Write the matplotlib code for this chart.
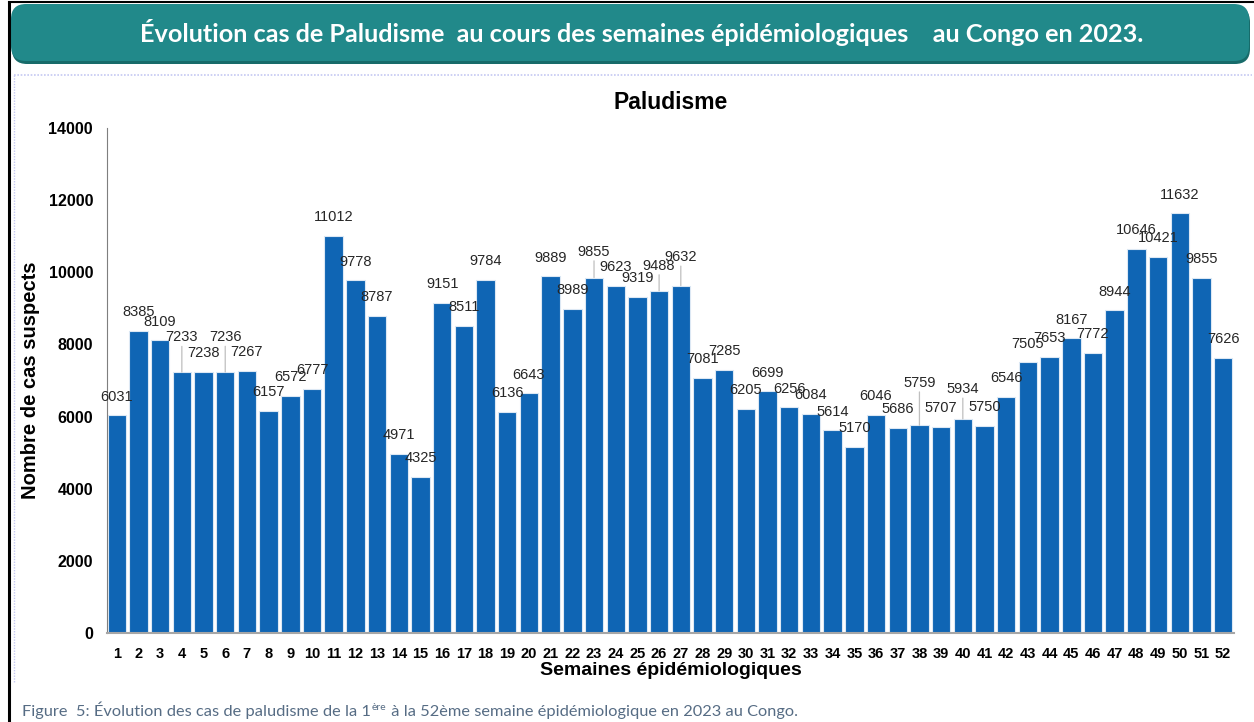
import matplotlib
matplotlib.use("Agg")
import matplotlib.pyplot as plt
from matplotlib.patches import FancyBboxPatch
from matplotlib.lines import Line2D

# Données : cas suspects de paludisme par semaine épidémiologique (Congo, 2023)
semaines = list(range(1, 53))
cas = [6031, 8385, 8109, 7233, 7238, 7236, 7267, 6157, 6572, 6777,
       11012, 9778, 8787, 4971, 4325, 9151, 8511, 9784, 6136, 6643,
       9889, 8989, 9855, 9623, 9319, 9488, 9632, 7081, 7285, 6205,
       6699, 6256, 6084, 5614, 5170, 6046, 5686, 5759, 5707, 5934,
       5750, 6546, 7505, 7653, 8167, 7772, 8944, 10646, 10421, 11632,
       9855, 7626]
y_ticks = [0, 2000, 4000, 6000, 8000, 10000, 12000, 14000]

titre = "Évolution cas de Paludisme  au cours des semaines épidémiologiques    au Congo en 2023."
titre_graphe = "Paludisme"
label_x = "Semaines épidémiologiques"
label_y = "Nombre de cas suspects"

W, H = 1254, 722
fig = plt.figure(figsize=(W / 100, H / 100), dpi=100)


def fx(px):
    return px / W


def fy(py):
    return 1 - py / H


# cadre noir autour de la page
fig.add_artist(Line2D([fx(9), fx(9)], [fy(4), fy(722)], color="black", lw=2.2,
                      transform=fig.transFigure))
fig.add_artist(Line2D([fx(9), fx(1254)], [fy(2), fy(2)], color="black", lw=1.5,
                      transform=fig.transFigure))

# bandeau du titre (ombre + bande teal)
ombre = FancyBboxPatch((fx(12), fy(64)), fx(1238), 57 / H,
                       boxstyle="round,pad=0,rounding_size=0.012",
                       transform=fig.transFigure, facecolor="#176b6a",
                       edgecolor="none", mutation_aspect=W / H)
fig.add_artist(ombre)
bandeau = FancyBboxPatch((fx(11), fy(61)), fx(1238), 57 / H,
                         boxstyle="round,pad=0,rounding_size=0.012",
                         transform=fig.transFigure, facecolor="#21898a",
                         edgecolor="none", mutation_aspect=W / H)
fig.add_artist(bandeau)
fig.text(fx(642), fy(32), titre, color="white", fontsize=18.2, fontweight="bold",
         family="Lato", ha="center", va="center")

# cadre pointillé bleu clair
fig.add_artist(Line2D([fx(14), fx(1252)], [fy(75), fy(75)], color="#c5c8f2", lw=1.2,
                      ls=(0, (1, 1)), transform=fig.transFigure))
fig.add_artist(Line2D([fx(14), fx(14)], [fy(75), fy(683)], color="#c5c8f2", lw=1.0,
                      ls=(0, (1, 1)), transform=fig.transFigure))

# graphique
ax = fig.add_axes([fx(107), fy(633), fx(1234) - fx(107), fy(128) - fy(633)])
ax.bar(semaines, cas, width=0.85, color="#0f65b4", edgecolor="#dce8f4", linewidth=0.8)
ax.set_xlim(0.55, 52.5)
ax.set_ylim(0, 14000)
ax.set_yticks(y_ticks)
ax.set_yticklabels([str(v) for v in y_ticks], fontsize=11.5, fontweight="bold",
                   family="Liberation Sans")
ax.set_xticks(semaines)
ax.set_xticklabels([str(s) for s in semaines], fontsize=10.5, fontweight="bold",
                   family="Liberation Sans")
ax.tick_params(length=0, pad=10)
ax.tick_params(axis="y", pad=10)
for s in ["top", "right"]:
    ax.spines[s].set_visible(False)
ax.spines["left"].set_color("#7f7f7f")
ax.spines["bottom"].set_color("#a6a6a6")
ax.spines["bottom"].set_linewidth(1.5)

ax.set_title(titre_graphe, fontsize=16.5, fontweight="bold", family="Liberation Sans",
             pad=14)
ax.set_xlabel(label_x, fontsize=14, fontweight="bold", family="Liberation Sans",
              labelpad=1)
ax.set_ylabel(label_y, fontsize=14.5, fontweight="bold", family="Liberation Sans",
              labelpad=6)

# étiquettes de données ; quelques-unes remontées avec trait de rappel (comme dans Excel)
remonte = {4: 11.5, 6: 11.5, 23: 5, 26: 4.5, 27: 7, 38: 17, 40: 8}
for s, v in zip(semaines, cas):
    dy = remonte.get(s, 0)
    ax.annotate(str(v), (s, v), xytext=(0, 13.5 + dy), textcoords="offset points",
                ha="center", va="center", fontsize=10.5, color="#262626",
                family="Liberation Sans")
    if dy:
        ax.annotate("", (s, v), xytext=(0, dy + 7), textcoords="offset points",
                    arrowprops=dict(arrowstyle="-", color="#bfbfbf", lw=0.9,
                                    shrinkA=0, shrinkB=0))

# légende de figure avec exposant
rend = fig.canvas.get_renderer()
cap_kw = dict(color="#566c84", family="Lato", va="baseline")
t1 = fig.text(fx(22), fy(716), "Figure  5: Évolution des cas de paludisme de la 1",
              fontsize=11.8, **cap_kw)
b1 = t1.get_window_extent(rend)
t2 = fig.text(b1.x1 / W + 0.0005, fy(716) + 6 / H, "ère", fontsize=7.5, **cap_kw)
b2 = t2.get_window_extent(rend)
fig.text(b2.x1 / W + 0.001, fy(716),
         " à la 52ème semaine épidémiologique en 2023 au Congo.", fontsize=11.8, **cap_kw)

fig.savefig("out.png", dpi=100)
